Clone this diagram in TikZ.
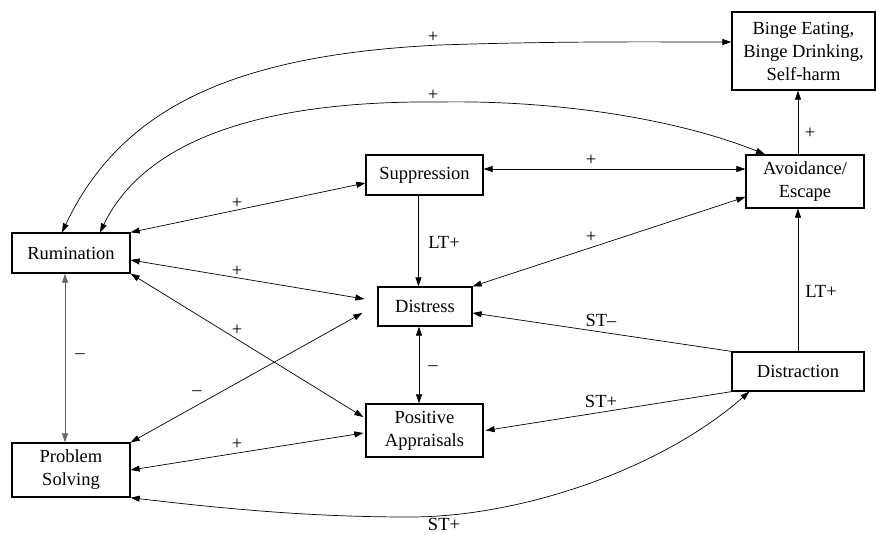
\documentclass[tikz,border=0pt]{standalone}
\usepackage{fontspec}
\setmainfont{Liberation Serif}
\usetikzlibrary{arrows.meta,calc}
\begin{document}
\begin{tikzpicture}[x=1pt,y=-1pt,
 box/.style={draw,line width=1.3pt,inner sep=0pt,align=center,font=\fontsize{18.5}{23}\selectfont},
 lbl/.style={inner sep=0pt,font=\fontsize{18.5}{23}\selectfont},
 conn/.style={line width=0.7pt},
 tip/.style={conn,-{Triangle[length=9pt,width=6pt]}},
 both/.style={conn,{Triangle[length=9pt,width=6pt]}-{Triangle[length=9pt,width=6pt]}}]
\useasboundingbox (0,0) rectangle (876,535);

% nodes
\node[box,minimum width=143pt,minimum height=78pt] (binge) at (803.5,51) {Binge Eating,\\Binge Drinking,\\Self-harm};
\node[box,minimum width=118pt,minimum height=53pt] (avoid) at (805,181.5) {Avoidance/\\Escape};
\node[box,minimum width=117pt,minimum height=40pt] (supp) at (424.5,175) {Suppression};
\node[box,minimum width=118pt,minimum height=40pt] (rum) at (71,253) {Rumination};
\node[box,minimum width=94pt,minimum height=39pt] (dist) at (425,306.5) {Distress};
\node[box,minimum width=117pt,minimum height=53pt] (pos) at (424.5,430.5) {Positive\\Appraisals};
\node[box,minimum width=118pt,minimum height=54pt] (prob) at (71,470) {Problem\\Solving};
\node[box,minimum width=132pt,minimum height=39pt] (distr) at (798,371.5) {Distraction};

% connectors
\draw[both] ([xshift=-9pt]rum.north) .. controls (120,110) and (230,55) .. (440,45)
  .. controls (560,41) and (650,42) .. ([yshift=9pt]binge.west);
\draw[both] ([xshift=29pt]rum.north) .. controls (140,150) and (240,100) .. (440,102)
  .. controls (560,100) and (680,120) .. ([xshift=-40pt]avoid.north);
\draw[both] (rum.north east) -- ([yshift=-8pt]supp.west);
\draw[both] ([yshift=6pt]supp.east) -- ([yshift=6pt]supp.east -| avoid.west);
\draw[tip] ([xshift=-6pt]supp.south) -- ([xshift=-6pt]supp.south |- dist.north);
\draw[both] ([yshift=-15.5pt]avoid.west) -- (dist.north east);
\draw[both] ([yshift=-7pt]rum.east) -- ([xshift=-13pt,yshift=7.5pt]dist.west);
\draw[both] (rum.south east) -- ([xshift=-2pt,yshift=13.5pt]pos.west);
\draw[both] (prob.north east) -- ([xshift=-15pt,yshift=-6.5pt]dist.west);
\draw[both] (prob.east) -- ([xshift=-2pt,yshift=-2.5pt]pos.west);
\draw[both,draw=black!60] ([xshift=-6pt]rum.south) -- ([xshift=-6pt]rum.south |- prob.north);
\draw[both] ([xshift=-6pt]dist.south) -- ([xshift=-6pt]dist.south |- pos.north);
\draw[tip] (distr.north west) -- ([yshift=-6.5pt]dist.east);
\draw[tip] (distr.north) -- (distr.north |- avoid.south);
\draw[tip] ([xshift=-7pt]avoid.north) -- ([xshift=-7pt]avoid.north |- binge.south);
\draw[tip] (distr.south west) -- ([xshift=2pt]pos.east);
\draw[both] (prob.south east) .. controls (250,512) and (330,517) .. (410,517)
  .. controls (520,517) and (660,470) .. ([xshift=18pt]distr.south west);

% labels
\node[lbl] (l1) at (433,37) {+};
\node[lbl] (l2) at (433,95) {+};
\node[lbl] (l3) at (237,203) {+};
\node[lbl] (l4) at (591,160) {+};
\node[lbl] (l5) at (444,242) {LT+};
\node[lbl] (l6) at (591,237) {+};
\node[lbl] (l7) at (237,271) {+};
\node[lbl] (l8) at (237,330) {+};
\node[lbl] (l9) at (80,356) {–};
\node[lbl] (l10) at (197,393) {–};
\node[lbl] (l11) at (433,368) {–};
\node[lbl] (l12) at (237,444) {+};
\node[lbl] (l13) at (601,320) {ST–};
\node[lbl] (l14) at (601,401) {ST+};
\node[lbl] (l15) at (821,291) {LT+};
\node[lbl] (l16) at (810,133) {+};
\node[lbl] (l17) at (444,524.5) {ST+};
\end{tikzpicture}
\end{document}
